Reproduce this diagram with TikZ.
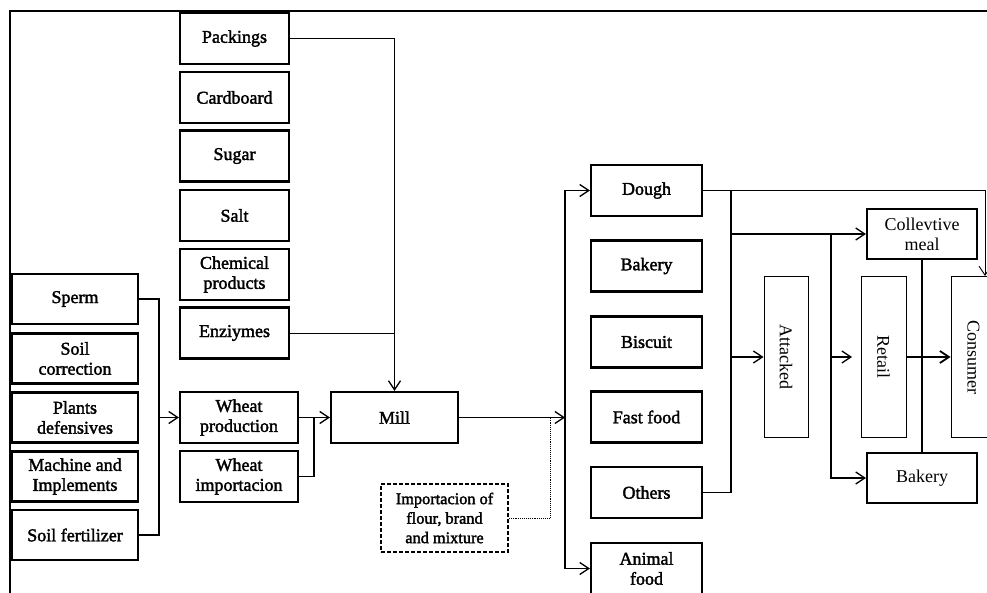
\documentclass[tikz,border=0pt]{standalone}
\usepackage{fontspec}
\setmainfont{Liberation Serif}
\newfontfamily\heavyserif[FakeBold=2]{Liberation Serif}
\usetikzlibrary{arrows.meta}
\begin{document}
\begin{tikzpicture}[x=1pt,y=-1pt,
  font=\fontsize{18}{20}\selectfont,
  >={Straight Barb[length=9pt,width=12pt]},
  heavybox/.style={draw, line width=2.2pt, inner sep=0pt, align=center,
    font=\fontsize{18}{20}\heavyserif},
  plainbox/.style={draw, line width=2.2pt, inner sep=0pt, align=center},
  lightbox/.style={draw, line width=1pt, inner sep=0pt, align=center},
  leftcol/.style={heavybox, minimum width=126pt, minimum height=50pt},
  midcol/.style={heavybox, minimum width=109pt, minimum height=51pt},
  wheat/.style={heavybox, minimum width=118pt, minimum height=51pt},
  prodcol/.style={heavybox, minimum width=111pt, minimum height=51pt},
  outlet/.style={plainbox, minimum width=110pt, minimum height=50pt},
  tallbox/.style={lightbox, minimum height=160pt},
  link/.style={line width=1.3pt},
  thinlink/.style={line width=0.9pt}]

\useasboundingbox (0,0) rectangle (987,593);
\clip (0,0) rectangle (987,593);

% frame
\draw[line width=1.2pt] (10,593) -- (10,11) -- (990,11);

% inputs to the farm
\node[leftcol] (sperm)   at (75,299)   {Sperm};
\node[leftcol] (soilcor) at (75,358.5) {Soil\\correction};
\node[leftcol] (plants)  at (75,417.5) {Plants\\defensives};
\node[leftcol] (machine) at (75,476.5) {Machine and\\Implements};
\node[leftcol] (fert)    at (75,535)   {Soil fertilizer};

% inputs to the mill
\node[midcol] (pack)  at (234.5,38.5)  {Packings};
\node[midcol] (card)  at (234.5,97.5)  {Cardboard};
\node[midcol] (sugar) at (234.5,156)   {Sugar};
\node[midcol] (salt)  at (234.5,215.5) {Salt};
\node[midcol] (chem)  at (234.5,274.5) {Chemical\\products};
\node[midcol] (enz)   at (234.5,333)   {Enziymes};

\node[wheat] (wprod) at (239,417.5) {Wheat\\production};
\node[wheat] (wimp)  at (239,476.5) {Wheat\\importacion};

\node[heavybox, minimum width=127pt, minimum height=51pt] (mill) at (394.5,417.5) {Mill};

\node[draw, dashed, dash pattern=on 4pt off 2pt, line width=1.6pt, inner sep=0pt,
      align=center, minimum width=127pt, minimum height=68pt,
      font=\fontsize{16.3}{19.5}\heavyserif] (flour) at (444.5,518)
      {Importacion of\\flour, brand\\and mixture};

% products
\node[prodcol] (dough)   at (646.5,190.5) {Dough};
\node[prodcol] (bakery)  at (646.5,266)   {Bakery};
\node[prodcol] (biscuit) at (646.5,342)   {Biscuit};
\node[prodcol] (fast)    at (646.5,417)   {Fast food};
\node[prodcol] (others)  at (646.5,492.5) {Others};
\node[prodcol] (animal)  at (646.5,568.5) {Animal\\food};

% distribution
\node[tallbox, minimum width=44pt] (attacked) at (786,357)   {\rotatebox{-90}{Attacked}};
\node[tallbox, minimum width=45pt] (retail)   at (883.5,357) {\rotatebox{-90}{Retail}};
\node[tallbox, minimum width=45pt] (consumer) at (973.5,357) {\rotatebox{-90}{Consumer}};
\node[outlet] (meal)    at (922,234) {Collevtive\\meal};
\node[outlet] (bakery2) at (922,478) {Bakery};

% junction points
\coordinate (jfarm)  at (159,417.5);
\coordinate (jwheat) at (314,417.5);
\coordinate (jflour) at (565,417.5);
\coordinate (jdot)   at (550,417.5);
\coordinate (tTop)   at (731,190.5);
\coordinate (tBot)   at (731,492.5);
\coordinate (cDrop)  at (985,276);
\coordinate (jmeal)  at (831,234);
\coordinate (jret)   at (831,357);
\coordinate (rtip)   at (852,357);

% farm inputs into wheat production
\draw[link] (sperm.east) -| (jfarm);
\draw[link] (fert.east) -| (jfarm);
\draw[link,->] (jfarm) -- (wprod.west);

% wheat into the mill
\draw[link,->] (wprod.east) -- (mill.west);
\draw[link] (wimp.east) -| (jwheat);

% packaging and additives into the mill
\draw[link,->] (pack.east) -| (mill.north);
\draw[thinlink] (enz.east) -- (enz.east -| mill.north);

% flour out of the mill
\draw[link,->] (mill.east) -- (jflour);
\draw[link,->] (jflour) |- (dough.west);
\draw[link,->] (jflour) |- (animal.west);
\draw[thinlink, densely dotted] (flour.east) -| (jdot);

% products to the market
\draw[thinlink,->] (dough.east) -| (cDrop);
\draw[link] (tTop) -- (tBot) -- (others.east);
\draw[link,->] (tTop |- attacked.west) -- (attacked.west);
\draw[link,->] (tTop |- jmeal) -- (meal.west);
\draw[link,->] (jmeal) |- (bakery2.west);
\draw[link,->] (jret) -- (rtip);
\draw[link] (meal.south) -- (bakery2.north);
\draw[line width=1.8pt,->] (retail.east) -- (consumer.west);

\end{tikzpicture}
\end{document}
